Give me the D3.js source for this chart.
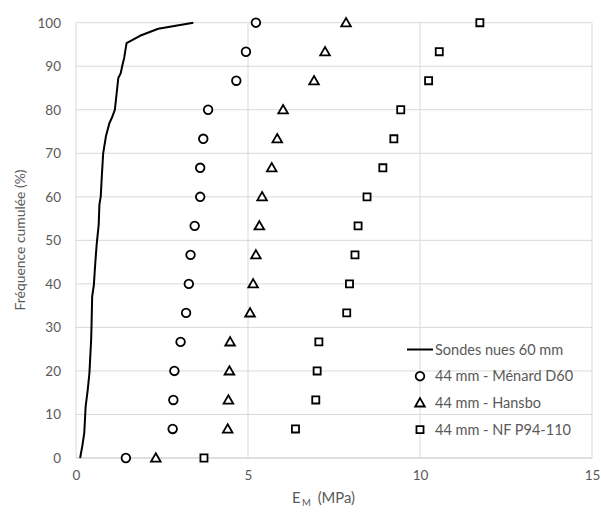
<!DOCTYPE html>
<html>
<head>
<meta charset="utf-8">
<script src="https://cdn.jsdelivr.net/npm/d3@7"></script>
<style>
  html, body { margin: 0; padding: 0; background: #fff; }
  svg text { font-family: Lato, "Open Sans", sans-serif; fill: #595959; }
</style>
</head>
<body>
<svg id="chart" width="601" height="512"></svg>
<script>
// Cumulative frequency levels shared by the three 44 mm series (16 tests)
const freqLevels = [0, 6.67, 13.33, 20, 26.67, 33.33, 40, 46.67, 53.33, 60, 66.67, 73.33, 80, 86.67, 93.33, 100];

// 44 mm probe, EM (MPa) for each method
const menardD60 = [1.45, 2.81, 2.83, 2.86, 3.04, 3.20, 3.28, 3.33, 3.45, 3.61, 3.61, 3.70, 3.84, 4.66, 4.94, 5.23];
const hansbo    = [2.32, 4.41, 4.43, 4.46, 4.48, 5.06, 5.15, 5.23, 5.33, 5.41, 5.69, 5.85, 6.02, 6.92, 7.24, 7.85];
const nfP94110  = [3.72, 6.38, 6.97, 7.01, 7.06, 7.87, 7.95, 8.11, 8.20, 8.46, 8.92, 9.24, 9.44, 10.25, 10.56, 11.74];

// Bare 60 mm probes: cumulative curve (EM, frequency)
const bareEM   = [0.12, 0.18, 0.24, 0.28, 0.34, 0.39, 0.44, 0.45, 0.47, 0.52, 0.55, 0.60, 0.66, 0.68, 0.72, 0.75, 0.79, 0.87, 0.97, 1.04, 1.13, 1.23, 1.30, 1.35, 1.40, 1.47, 1.86, 2.39, 3.41];
const bareFreq = [0, 2.6, 5.7, 11.8, 15.6, 19.5, 27.1, 30.0, 37.1, 39.8, 43.6, 49.0, 53.6, 58.2, 60.1, 64.7, 70.0, 73.9, 76.9, 78.1, 80.0, 87.3, 88.4, 90.3, 91.9, 95.3, 97.0, 98.6, 100];

const xTicks = [0, 5, 10, 15];
const yTicks = [0, 10, 20, 30, 40, 50, 60, 70, 80, 90, 100];

const legendLabels = ["Sondes nues 60 mm", "44 mm - Ménard D60", "44 mm - Hansbo", "44 mm - NF P94-110"];

const svg = d3.select("#chart");
const m = { left: 76, right: 592, top: 22.7, bottom: 458 };

const x = d3.scaleLinear().domain([0, 15]).range([m.left, m.right]);
const y = d3.scaleLinear().domain([0, 100]).range([m.bottom, m.top]);

// Gridlines
const grid = svg.append("g");
grid.selectAll("line.h").data(yTicks).join("line")
  .attr("x1", m.left).attr("x2", m.right)
  .attr("y1", d => y(d)).attr("y2", d => y(d))
  .attr("stroke", d => d === 0 ? "#bfbfbf" : "#d9d9d9").attr("stroke-width", 1);
grid.selectAll("line.v").data(xTicks).join("line")
  .attr("y1", m.top).attr("y2", m.bottom)
  .attr("x1", d => x(d)).attr("x2", d => x(d))
  .attr("stroke", "#d9d9d9").attr("stroke-width", 1);

// Axes (labels only, Excel style)
const xAxis = svg.append("g").attr("transform", `translate(0,${m.bottom})`)
  .call(d3.axisBottom(x).tickValues(xTicks).tickSize(0).tickPadding(12));
const yAxis = svg.append("g").attr("transform", `translate(${m.left},0)`)
  .call(d3.axisLeft(y).tickValues(yTicks).tickSize(0).tickPadding(15));
[xAxis, yAxis].forEach(a => {
  a.select(".domain").remove();
  a.selectAll("text").attr("font-size", 13.5).attr("font-family", "Lato, sans-serif").attr("fill", "#595959");
});

// Axis titles
const xTitle = svg.append("text").attr("x", 292).attr("y", 503)
  .attr("text-anchor", "start").attr("font-size", 14.8);
xTitle.append("tspan").text("E");
xTitle.append("tspan").attr("font-size", 9.5).attr("dx", 1.5).attr("dy", 3).text("M");
xTitle.append("tspan").attr("dx", 3).attr("dy", -3).text(" (MPa)");

svg.append("text")
  .attr("transform", "translate(25,240) rotate(-90)")
  .attr("text-anchor", "middle").attr("font-size", 13.9)
  .text("Fréquence cumulée (%)");

// Bare probe curve
const bare = bareEM.map((v, i) => [v, bareFreq[i]]);
svg.append("path").datum(bare)
  .attr("fill", "none").attr("stroke", "#000").attr("stroke-width", 2)
  .attr("stroke-linejoin", "round")
  .attr("d", d3.line().x(d => x(d[0])).y(d => y(d[1])));

// Markers
const sym = {
  circle: d3.symbol().type(d3.symbolCircle).size(58),
  triangle: d3.symbol().type(d3.symbolTriangle).size(40),
  square: d3.symbol().type(d3.symbolSquare).size(50)
};
const series = [
  { vals: menardD60, shape: "circle" },
  { vals: hansbo, shape: "triangle" },
  { vals: nfP94110, shape: "square" }
];
series.forEach(s => {
  svg.append("g").selectAll("path").data(s.vals).join("path")
    .attr("transform", (d, i) => `translate(${x(d)},${y(freqLevels[i]) + (s.shape === "triangle" ? 0.8 : 0)})`)
    .attr("d", sym[s.shape]())
    .attr("fill", "#fff").attr("stroke", "#000").attr("stroke-width", 1.8);
});

// Legend
const legend = svg.append("g");
const ly0 = 349.5, lstep = 26.7;
legend.append("line").attr("x1", 407).attr("x2", 433).attr("y1", ly0).attr("y2", ly0)
  .attr("stroke", "#000").attr("stroke-width", 2);
["circle", "triangle", "square"].forEach((sh, i) => {
  legend.append("path")
    .attr("transform", `translate(420,${ly0 + (i + 1) * lstep + (sh === "triangle" ? 0.8 : 0)})`)
    .attr("d", sym[sh]())
    .attr("fill", "#fff").attr("stroke", "#000").attr("stroke-width", 1.8);
});
legend.selectAll("text").data(legendLabels).join("text")
  .attr("x", 435).attr("y", (d, i) => ly0 + i * lstep)
  .attr("dy", "0.35em").attr("font-size", 14.5).text(d => d);
</script>
</body>
</html>
